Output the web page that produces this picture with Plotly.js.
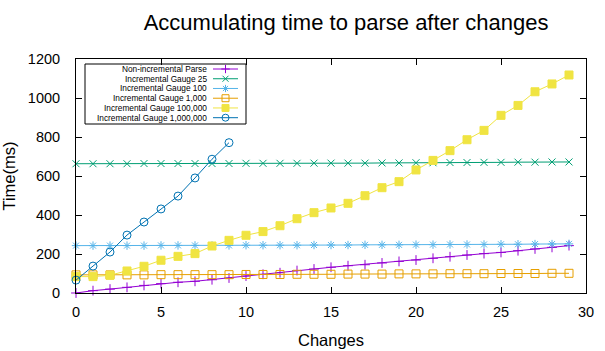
<!DOCTYPE html>
<html>
<head>
<meta charset="utf-8">
<script src="https://cdn.plot.ly/plotly-3.0.1.min.js"></script>
<style>html,body{margin:0;padding:0;background:#fff;}#chart{width:605px;height:351px;}</style>
</head>
<body>
<div id="chart"></div>
<script>
// ---- data ----
const changes = [0,1,2,3,4,5,6,7,8,9,10,11,12,13,14,15,16,17,18,19,20,21,22,23,24,25,26,27,28,29];
const changesShort = [0,1,2,3,4,5,6,7,8,9];
const nonIncremental = [0,12,20,29,39,48,55,60,68,77,87,96,104,115,123,132,140,145,154,162,169,178,186,195,202,208,217,226,234,243];
const gauge25 = [663,663,663,663,664,664,664,664,664,664,665,665,665,665,666,666,666,666,667,667,668,668,669,669,670,670,671,671,672,672];
const gauge100 = [243,243,243,243,243,244,244,244,244,244,245,245,245,245,246,246,246,247,247,247,248,248,249,249,249,250,250,251,251,252];
const gauge1000 = [93,93,93,93,93,94,94,94,94,94,95,95,95,96,96,96,97,97,97,98,98,98,99,99,99,100,100,100,101,101];
const gauge100k = [84,84,91,113,137,168,188,202,241,270,296,315,345,381,412,436,460,499,540,571,631,680,730,786,834,911,962,1032,1072,1118];
const gauge1M = [66,138,210,297,364,431,497,590,686,771];
const seriesNames = ["Non-incremental Parse","Incremental Gauge 25","Incremental Gauge 100","Incremental Gauge 1,000","Incremental Gauge 100,000","Incremental Gauge 1,000,000"];
const xTicks = [0,5,10,15,20,25,30];
const yTicks = [0,200,400,600,800,1000,1200];

// ---- styles ----
const colors = ["#9400d3","#009e73","#56b4e9","#e69f00","#f0e442","#0072b2"];
const symbols = ["cross-thin-open","x-thin-open","asterisk-open","square-open","square","circle-open"];
const sizes = [7,7,7,8,8,8];
const xs = [changes,changes,changes,changes,changes,changesShort];
const ys = [nonIncremental,gauge25,gauge100,gauge1000,gauge100k,gauge1M];

const traces = [];
for (let i = 0; i < ys.length; i++) {
  traces.push({
    type: "scatter", mode: "lines+markers", name: seriesNames[i],
    x: xs[i], y: ys[i], cliponaxis: false, showlegend: false,
    line: {color: colors[i], width: 1},
    marker: {symbol: symbols[i], size: sizes[i], color: colors[i], line: {color: colors[i], width: 1}}
  });
}

// ---- custom gnuplot-style legend (text left, sample right) ----
const plotL = 76, plotR = 586, plotT = 59, plotB = 293;
const pw = plotR - plotL, ph = plotB - plotT;
const px2x = p => (p - plotL) / pw;
const px2y = p => (plotB - p) / ph;
const shapes = [{
  type: "rect", xref: "paper", yref: "paper",
  x0: px2x(85), x1: px2x(246), y0: px2y(124), y1: px2y(64),
  line: {color: "#000", width: 1}, fillcolor: "#fff", layer: "below"
}];
const annotations = [];
const rowTop = 69, rowStep = 9.74;
for (let i = 0; i < seriesNames.length; i++) {
  const yp = px2y(rowTop + i * rowStep);
  annotations.push({
    xref: "paper", yref: "paper", x: px2x(209), y: yp, xanchor: "right", yanchor: "middle",
    text: seriesNames[i], showarrow: false, font: {family: "Liberation Sans, Arial, sans-serif", size: 8.3, color: "#000"}
  });
  shapes.push({type: "line", xref: "paper", yref: "paper", x0: px2x(213), x1: px2x(238), y0: yp, y1: yp,
    line: {color: colors[i], width: 1}, layer: "below"});
  traces.push({
    type: "scatter", mode: "markers", xaxis: "x2", yaxis: "y2", showlegend: false, hoverinfo: "skip",
    x: [px2x(225.5)], y: [yp], cliponaxis: false,
    marker: {symbol: symbols[i], size: sizes[i] - 1, color: colors[i], line: {color: colors[i], width: 1}}
  });
}

const font = "Liberation Sans, Arial, sans-serif";
const layout = {
  width: 605, height: 351,
  margin: {l: plotL, r: 605 - plotR, t: plotT, b: 351 - plotB, pad: 0},
  paper_bgcolor: "#fff", plot_bgcolor: "#fff",
  font: {family: font, color: "#000"},
  showlegend: false,
  title: {text: "Accumulating time to parse after changes", font: {family: font, size: 22, color: "#000"},
    x: 0.572, xanchor: "center", y: 0.937, yanchor: "middle"},
  xaxis: {
    range: [0, 30], tickvals: xTicks, ticktext: xTicks.map(String),
    showgrid: false, zeroline: false, showline: true, linecolor: "#000", linewidth: 1, mirror: "ticks",
    ticks: "inside", ticklen: 6, tickcolor: "#000", tickfont: {family: font, size: 14.5, color: "#000"},
    ticklabelstandoff: 6,
    title: {text: "Changes", font: {family: font, size: 16.5, color: "#000"}, standoff: 15}
  },
  yaxis: {
    range: [0, 1200], tickvals: yTicks, ticktext: yTicks.map(String),
    showgrid: false, zeroline: false, showline: true, linecolor: "#000", linewidth: 1, mirror: "ticks",
    ticks: "inside", ticklen: 6, tickcolor: "#000", tickfont: {family: font, size: 14.5, color: "#000"},
    ticklabelstandoff: 12,
    title: {text: "Time(ms)", font: {family: font, size: 16.5, color: "#000"}, standoff: 12}
  },
  xaxis2: {overlaying: "x", range: [0, 1], visible: false, fixedrange: true},
  yaxis2: {overlaying: "y", range: [0, 1], visible: false, fixedrange: true},
  shapes: shapes,
  annotations: annotations
};

Plotly.newPlot("chart", traces, layout, {staticPlot: true, displayModeBar: false});
</script>
</body>
</html>
